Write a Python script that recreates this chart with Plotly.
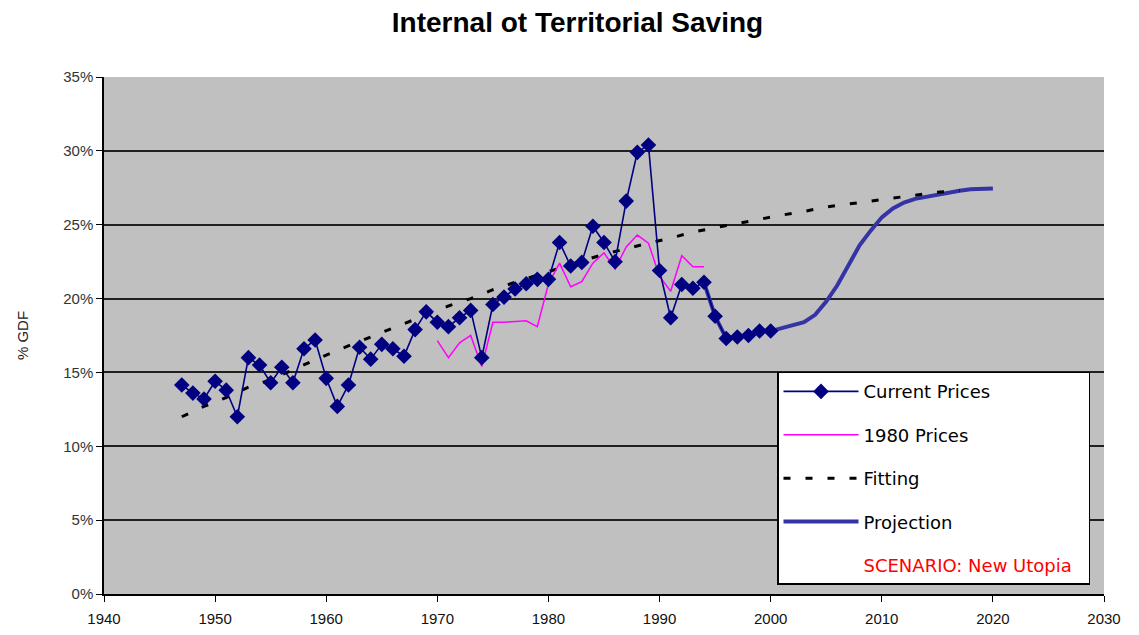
import plotly.graph_objects as go

# ---- data ----
cur_years = list(range(1947, 2001))
cur_vals = [14.15, 13.6, 13.2, 14.4, 13.8, 12.0, 16.0, 15.5, 14.3, 15.35,
            14.3, 16.6, 17.2, 14.6, 12.7, 14.15, 16.7, 15.9, 16.9, 16.6,
            16.1, 17.9, 19.1, 18.4, 18.1, 18.7, 19.2, 16.0, 19.6, 20.1,
            20.65, 21.0, 21.3, 21.3, 23.8, 22.2, 22.45, 24.9, 23.8, 22.5,
            26.6, 29.9, 30.4, 21.9, 18.7, 20.95, 20.7, 21.1, 18.8, 17.3,
            17.4, 17.5, 17.8, 17.8]

p80_years = list(range(1970, 1995))
p80_vals = [17.15, 16.0, 17.0, 17.5, 15.4, 18.4, 18.4, 18.45, 18.5, 18.1,
            21.0, 22.4, 20.8, 21.15, 22.4, 23.1, 22.0, 23.5, 24.3, 23.75,
            21.5, 20.5, 22.9, 22.15, 22.15]

fit_years = list(range(1947, 2018, 2))
fit_vals = [12.0, 12.7, 13.3, 14.0, 14.5, 15.2, 15.85, 16.5, 17.1, 17.75,
            18.3, 18.9, 19.5, 20.0, 20.6, 21.1, 21.6, 22.1, 22.55, 23.0,
            23.4, 23.75, 24.1, 24.5, 24.8, 25.1, 25.4, 25.65, 25.9, 26.2,
            26.4, 26.6, 26.75, 27.0, 27.2, 27.3]

proj_years = list(range(1994, 2021))
proj_vals = [21.1, 18.8, 17.3, 17.4, 17.5, 17.8, 17.8, 18.0, 18.2, 18.4,
             18.9, 19.8, 20.9, 22.2, 23.6, 24.6, 25.5, 26.1, 26.5, 26.75,
             26.9, 27.0, 27.15, 27.3, 27.4, 27.45, 27.45]

x_ticks = list(range(1940, 2031, 10))
y_ticks = [0, 5, 10, 15, 20, 25, 30, 35]
y_labels = [f"{v}%" for v in y_ticks]

title = "Internal ot Territorial Saving"
scenario = "SCENARIO: New Utopia"

# ---- figure ----
fig = go.Figure()

fig.add_trace(go.Scatter(
    x=proj_years, y=proj_vals, name="Projection", mode="lines",
    line=dict(color="#3434a4", width=4), legendrank=4, legendgroup="d"))
fig.add_trace(go.Scatter(
    x=fit_years, y=fit_vals, name="Fitting", mode="lines",
    line=dict(color="black", width=3, dash="7px,15px"), legendrank=3, legendgroup="c"))
fig.add_trace(go.Scatter(
    x=p80_years, y=p80_vals, name="1980 Prices", mode="lines",
    line=dict(color="#ff00ff", width=1.5), legendrank=2, legendgroup="b"))
fig.add_trace(go.Scatter(
    x=cur_years, y=cur_vals, name="Current Prices", mode="lines+markers",
    line=dict(color="#000080", width=1.6),
    marker=dict(symbol="diamond", size=12, color="#000080"),
    legendrank=1, legendgroup="a"))
fig.add_trace(go.Scatter(
    x=[None], y=[None],
    name=f"<span style='color:#ff0000'>{scenario}</span>\u00a0\u00a0",
    mode="lines", line=dict(color="rgba(0,0,0,0)", width=0),
    legendrank=5, legendgroup="e"))

fig.update_layout(
    width=1139, height=635,
    margin=dict(l=96, r=43, t=69, b=49),
    paper_bgcolor="white", plot_bgcolor="#c0c0c0",
    title=dict(text=f"<b>{title}</b>", x=0.5, xanchor="center", y=0.978, yanchor="middle",
               font=dict(family="Liberation Sans, Arial", size=28, color="black")),
    font=dict(family="Liberation Sans, Arial", size=15, color="#222"),
    showlegend=True,
    legend=dict(x=0.673, xanchor="left", y=0.43, yanchor="top",
                bgcolor="white", bordercolor="black", borderwidth=1.5,
                font=dict(family="DejaVu Sans", size=18, color="black"),
                traceorder="grouped", tracegroupgap=17, itemwidth=75),
    xaxis=dict(range=[1940, 2030], tickvals=x_ticks, ticktext=[str(t) for t in x_ticks],
               showgrid=False, zeroline=False, showline=True, linecolor="black", linewidth=1.5,
               ticks="outside", ticklen=6, tickcolor="black", ticklabelstandoff=4,
               tickfont=dict(family="Liberation Sans Narrow, Liberation Sans", size=15, color="#111")),
    yaxis=dict(range=[0, 35], tickvals=y_ticks, ticktext=y_labels,
               showgrid=True, gridcolor="#202020", gridwidth=2, zeroline=False,
               showline=True, linecolor="black", linewidth=1.5,
               ticks="outside", ticklen=6, tickcolor="black",
               title=dict(text="% GDF", standoff=31,
                          font=dict(family="Liberation Sans", size=15, color="#222")),
               tickfont=dict(family="Liberation Sans", size=15, color="#333")),
)

fig.write_html("out.html")
